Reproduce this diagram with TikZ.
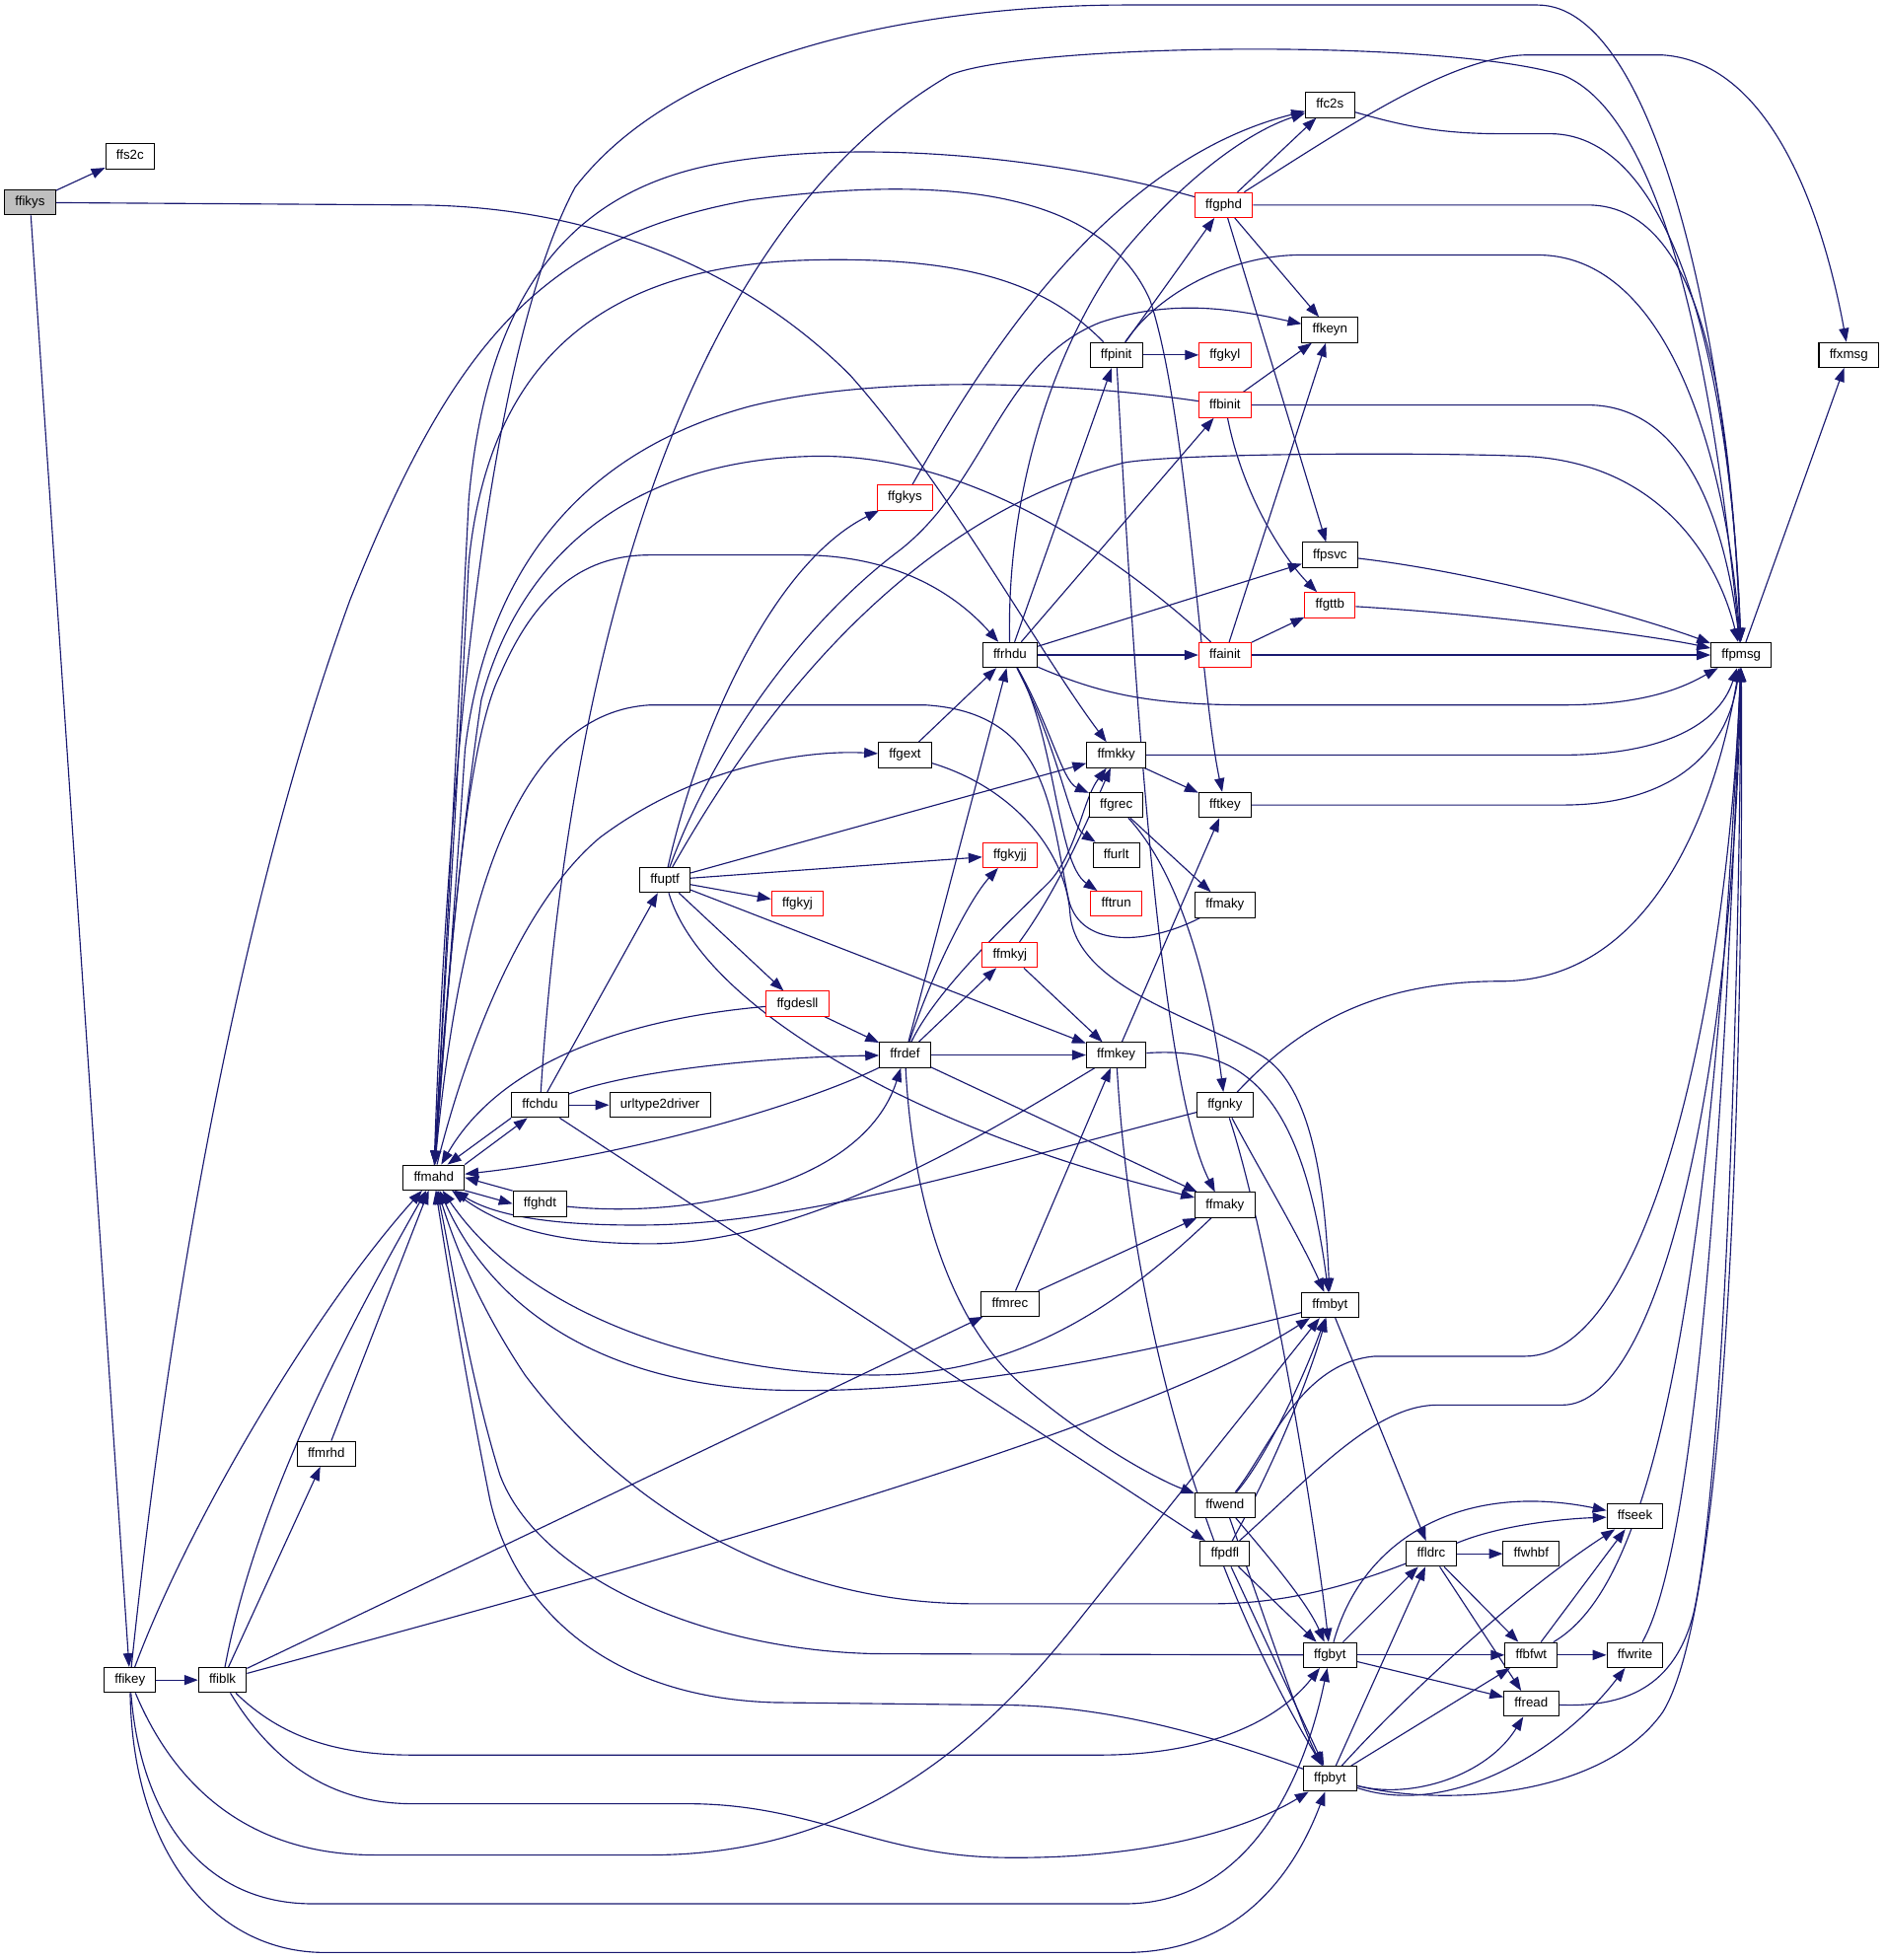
\documentclass[tikz,border=0pt]{standalone}
\usepackage{fontspec}
\setmainfont{Liberation Sans}
\usetikzlibrary{arrows.meta}
\definecolor{edgec}{HTML}{191970}
\definecolor{grayfill}{HTML}{BFBFBF}
\pgfdeclarelayer{bg}
\pgfsetlayers{bg,main}
\begin{document}
\begin{tikzpicture}[x=1pt,y=-1pt,
  nd/.style={draw=black, fill=white, rectangle, minimum height=20pt, inner xsep=8.5pt, inner ysep=0pt,
    text height=7.7pt, text depth=2.3pt, font=\fontsize{10.5}{12}\selectfont, line width=0.8pt},
  rd/.style={nd, draw=red},
  e/.style={draw=edgec, line width=0.9pt, -{Triangle[length=11pt,width=8pt]}}]
\useasboundingbox (0,0) rectangle (1508,1568);
\node[nd,fill=grayfill] (ffikys) at (24,162) {ffikys};
\node[nd] (ffs2c) at (104,125) {ffs2c};
\node[nd] (ffikey) at (104,1344) {ffikey};
\node[nd] (ffiblk) at (178,1344) {ffiblk};
\node[nd] (ffmrhd) at (261,1163) {ffmrhd};
\node[nd] (ffmahd) at (347,942) {ffmahd};
\node[nd] (ffghdt) at (432,963) {ffghdt};
\node[nd] (ffchdu) at (432,884) {ffchdu};
\node[nd] (urltd) at (528,884) {urltype2driver};
\node[nd] (ffuptf) at (532,704) {ffuptf};
\node[rd] (ffgkys) at (724,398) {ffgkys};
\node[rd] (ffgkyj) at (638,723) {ffgkyj};
\node[rd] (ffgdesll) at (638,803) {ffgdesll};
\node[nd] (ffgext) at (724,604) {ffgext};
\node[nd] (ffrdef) at (724,844) {ffrdef};
\node[nd] (ffrhdu) at (808,524) {ffrhdu};
\node[rd] (ffgkyjj) at (808,684) {ffgkyjj};
\node[rd] (ffmkyj) at (808,764) {ffmkyj};
\node[nd] (ffmrec) at (808,1043) {ffmrec};
\node[nd] (ffpinit) at (893,284) {ffpinit};
\node[nd] (ffmkky) at (893,604) {ffmkky};
\node[nd] (ffgrec) at (893,644) {ffgrec};
\node[nd] (ffurlt) at (893,684) {ffurlt};
\node[rd] (fftrun) at (893,723) {fftrun};
\node[nd] (ffmkey) at (893,844) {ffmkey};
\node[rd] (ffgphd) at (979,164) {ffgphd};
\node[rd] (ffgkyl) at (980,284) {ffgkyl};
\node[rd] (ffbinit) at (980,324) {ffbinit};
\node[rd] (ffainit) at (980,524) {ffainit};
\node[nd] (fftkey) at (980,644) {fftkey};
\node[nd] (ffmakya) at (980,724) {ffmaky};
\node[nd] (ffgnky) at (980,884) {ffgnky};
\node[nd] (ffmakyb) at (980,964) {ffmaky};
\node[nd] (ffwend) at (980,1204) {ffwend};
\node[nd] (ffpdfl) at (980,1243) {ffpdfl};
\node[nd] (ffc2s) at (1064,84) {ffc2s};
\node[nd] (ffkeyn) at (1064,264) {ffkeyn};
\node[nd] (ffpsvc) at (1064,444) {ffpsvc};
\node[rd] (ffgttb) at (1064,484) {ffgttb};
\node[nd] (ffmbyt) at (1064,1044) {ffmbyt};
\node[nd] (ffgbyt) at (1064,1324) {ffgbyt};
\node[nd] (ffpbyt) at (1064,1423) {ffpbyt};
\node[nd] (ffldrc) at (1145,1243) {ffldrc};
\node[nd] (ffwhbf) at (1225,1243) {ffwhbf};
\node[nd] (ffbfwt) at (1225,1324) {ffbfwt};
\node[nd] (ffread) at (1225,1363) {ffread};
\node[nd] (ffseek) at (1308,1213) {ffseek};
\node[nd] (ffwrite) at (1308,1324) {ffwrite};
\node[nd] (ffpmsg) at (1393,524) {ffpmsg};
\node[nd] (ffxmsg) at (1479,284) {ffxmsg};
\begin{pgfonlayer}{bg}
% ffikys
\draw[e] (ffikys) -- (ffs2c);
\draw[e] (ffikys) -- (ffikey);
\draw[e] (ffikys) -- (330,164) .. controls (480,164) and (600,220) .. (680,300) .. controls (760,390) and (830,520) .. (ffmkky);
% ffikey
\draw[e] (ffikey) -- (ffiblk);
\draw[e] (ffikey) .. controls (150,1220) and (250,1050) .. (ffmahd);
\draw[e] (ffikey) .. controls (140,1000) and (200,700) .. (280,480) .. controls (360,280) and (430,190) .. (600,160) .. controls (750,140) and (880,150) .. (920,240) .. controls (950,330) and (960,550) .. (fftkey);
\draw[e] (ffikey) .. controls (140,1430) and (200,1484) .. (300,1484) -- (520,1484) .. controls (680,1484) and (780,1400) .. (860,1300) -- (ffmbyt);
\draw[e] (ffikey) .. controls (112,1450) and (160,1523) .. (250,1523) -- (900,1523) .. controls (990,1523) and (1040,1440) .. (ffgbyt);
\draw[e] (ffikey) .. controls (106,1480) and (170,1562) .. (260,1562) -- (900,1562) .. controls (990,1562) and (1035,1500) .. (ffpbyt);
% ffiblk
\draw[e] (ffiblk) .. controls (205,1200) and (280,1060) .. (ffmahd);
\draw[e] (ffiblk) -- (ffmrhd);
\draw[e] (ffmrhd) -- (ffmahd);
\draw[e] (ffiblk) -- (ffmrec);
\draw[e] (ffiblk) .. controls (450,1270) and (900,1150) .. (ffmbyt);
\draw[e] (ffiblk) .. controls (225,1390) and (270,1404) .. (330,1404) -- (880,1404) .. controls (960,1404) and (1020,1380) .. (ffgbyt);
\draw[e] (ffiblk) .. controls (215,1405) and (260,1443) .. (330,1443) -- (550,1443) .. controls (650,1443) and (700,1484) .. (800,1486) .. controls (920,1488) and (1000,1462) .. (ffpbyt);
% ffmahd / ffchdu / ffghdt
\draw[e] (ffchdu.south west) -- ([xshift=11pt]ffmahd.north);
\draw[e] (ffmahd.north east) -- ([xshift=-10pt]ffchdu.south);
\draw[e] (ffmahd.south east) -- (ffghdt.west);
\draw[e] (ffghdt.north west) -- (ffmahd.east);
\draw[e] (ffghdt) .. controls (550,975) and (690,950) .. (ffrdef);
\draw[e] (ffchdu) -- (urltd);
\draw[e] (ffchdu) -- (ffuptf);
\draw[e] (ffchdu) .. controls (500,858) and (600,846) .. (ffrdef);
\draw[e] (ffchdu) -- (ffpdfl);
\draw[e] (ffchdu) .. controls (450,600) and (520,200) .. (760,60) .. controls (820,35) and (1150,30) .. (1250,60) .. controls (1350,100) and (1380,400) .. (ffpmsg);
% ffmahd outgoing
\draw[e] (ffmahd) .. controls (355,700) and (380,300) .. (460,150) .. controls (560,20) and (800,4) .. (900,4) -- (1230,4) .. controls (1330,4) and (1385,300) .. (ffpmsg);
\draw[e] (ffmahd) .. controls (358,800) and (370,600) .. (400,540) .. controls (430,470) and (470,444) .. (520,444) -- (640,444) .. controls (710,444) and (760,470) .. (ffrhdu);
\draw[e] (ffmahd) .. controls (375,830) and (420,720) .. (480,670) .. controls (560,610) and (650,600) .. (ffgext);
% into ffmahd
\draw[e] (ffgphd) .. controls (850,128) and (700,110) .. (580,130) .. controls (460,150) and (390,230) .. (375,400) .. controls (365,600) and (355,800) .. (ffmahd);
\draw[e] (ffpinit) .. controls (840,230) and (780,205) .. (650,208) .. controls (470,212) and (390,300) .. (375,450) .. controls (365,650) and (355,800) .. (ffmahd);
\draw[e] (ffbinit) .. controls (850,305) and (700,300) .. (600,325) .. controls (470,360) and (390,450) .. (372,600) .. controls (362,750) and (354,850) .. (ffmahd);
\draw[e] (ffainit) .. controls (900,450) and (780,362) .. (650,365) .. controls (520,368) and (420,430) .. (385,560) .. controls (365,700) and (355,820) .. (ffmahd);
\draw[e] (ffmakya) .. controls (920,755) and (865,760) .. (855,720) .. controls (840,650) and (840,570) .. (740,564) -- (520,564) .. controls (420,570) and (370,700) .. (ffmahd);
\draw[e] (ffgdesll) .. controls (500,815) and (400,850) .. (ffmahd);
\draw[e] (ffrdef) .. controls (640,885) and (500,925) .. (ffmahd);
\draw[e] (ffmkey) .. controls (800,900) and (650,995) .. (520,995) .. controls (440,995) and (400,980) .. (ffmahd);
\draw[e] (ffgnky) .. controls (800,930) and (650,978) .. (520,980) .. controls (440,981) and (395,972) .. (ffmahd);
\draw[e] (ffmakyb) .. controls (900,1040) and (820,1100) .. (700,1100) .. controls (560,1100) and (420,1050) .. (ffmahd);
\draw[e] (ffmbyt) .. controls (850,1100) and (720,1115) .. (620,1112) .. controls (500,1108) and (400,1060) .. (ffmahd);
\draw[e] (ffldrc) .. controls (1080,1268) and (1030,1283) .. (970,1283) -- (780,1283) .. controls (600,1283) and (480,1180) .. (420,1100) .. controls (380,1040) and (362,990) .. (ffmahd);
\draw[e] (ffgbyt) -- (700,1323) .. controls (560,1320) and (430,1260) .. (400,1180) .. controls (375,1100) and (360,1000) .. (ffmahd);
\draw[e] (ffpbyt) .. controls (960,1385) and (880,1364) .. (800,1364) -- (620,1362) .. controls (480,1358) and (410,1280) .. (392,1200) .. controls (372,1100) and (356,1000) .. (ffmahd);
% ffuptf
\draw[e] (ffuptf) .. controls (560,580) and (620,450) .. (ffgkys);
\draw[e] (ffuptf) .. controls (580,620) and (700,420) .. (900,370) .. controls (950,362) and (1150,362) .. (1220,365) .. controls (1330,370) and (1375,450) .. (ffpmsg);
\draw[e] (ffuptf) .. controls (570,600) and (640,500) .. (720,440) .. controls (790,385) and (800,290) .. (880,258) .. controls (940,238) and (990,248) .. (ffkeyn);
\draw[e] (ffuptf) -- (ffmkky);
\draw[e] (ffuptf) -- (ffgkyjj);
\draw[e] (ffuptf) -- (ffgkyj);
\draw[e] (ffuptf) -- (ffgdesll);
\draw[e] (ffuptf) -- (ffmkey);
\draw[e] (ffuptf) .. controls (560,800) and (720,900) .. (ffmakyb);
% ffgdesll, ffrdef
\draw[e] (ffgdesll) -- (ffrdef);
\draw[e] (ffrdef) -- (ffrhdu);
\draw[e] (ffrdef) .. controls (745,780) and (775,720) .. (ffgkyjj);
\draw[e] (ffrdef) -- (ffmkyj);
\draw[e] (ffrdef) .. controls (750,790) and (810,735) .. (840,705) .. controls (862,680) and (866,640) .. (ffmkky);
\draw[e] (ffrdef) -- (ffmkey);
\draw[e] (ffrdef) -- (ffmakyb);
\draw[e] (ffrdef) .. controls (730,960) and (760,1060) .. (820,1110) .. controls (880,1160) and (930,1185) .. (ffwend);
% ffmkyj
\draw[e] (ffmkyj) .. controls (840,720) and (860,680) .. (ffmkky);
\draw[e] (ffmkyj) -- (ffmkey);
% ffrhdu
\draw[e] (ffrhdu) .. controls (840,580) and (850,625) .. (ffgrec);
\draw[e] (ffrhdu) .. controls (848,600) and (855,660) .. (ffurlt);
\draw[e] (ffrhdu) .. controls (845,590) and (845,690) .. (fftrun);
\draw[e] (ffrhdu) -- (ffainit);
\draw[e] (ffrhdu) -- (ffpsvc);
\draw[e] (ffrhdu) .. controls (880,555) and (920,564) .. (1000,564) -- (1250,564) .. controls (1320,564) and (1350,548) .. (ffpmsg);
\draw[e] (ffrhdu) -- (ffpinit);
\draw[e] (ffrhdu) -- (ffbinit);
\draw[e] (ffrhdu) .. controls (805,400) and (840,280) .. (900,200) .. controls (950,140) and (1000,105) .. (ffc2s);
% ffgkys, ffgphd
\draw[e] (ffgkys) .. controls (780,300) and (880,130) .. (ffc2s);
\draw[e] (ffgphd) -- (ffc2s);
\draw[e] (ffgphd) .. controls (1080,100) and (1160,46) .. (1220,44) -- (1330,44) .. controls (1420,50) and (1460,180) .. (ffxmsg);
\draw[e] (ffgphd) -- (1270,164) .. controls (1370,164) and (1385,350) .. (ffpmsg);
\draw[e] (ffgphd) -- (ffkeyn);
\draw[e] (ffgphd) -- (ffpsvc);
% ffpinit
\draw[e] (ffpinit) -- (ffgphd);
\draw[e] (ffpinit) -- (ffgkyl);
\draw[e] (ffpinit) .. controls (930,230) and (990,204) .. (1040,204) -- (1230,204) .. controls (1340,204) and (1382,380) .. (ffpmsg);
\draw[e] (ffpinit) .. controls (905,500) and (925,860) .. ([xshift=-8pt]ffmakyb.north);
% ffbinit, ffainit
\draw[e] (ffbinit) -- (ffkeyn);
\draw[e] (ffbinit) -- (1270,324) .. controls (1350,324) and (1380,420) .. (ffpmsg);
\draw[e] (ffbinit) .. controls (995,400) and (1030,450) .. (ffgttb);
\draw[e] (ffainit) -- (ffgttb);
\draw[e] (ffainit) -- (ffkeyn);
\draw[e] (ffainit) -- (ffpmsg);
% to ffpmsg
\draw[e] (ffpsvc) .. controls (1200,460) and (1330,500) .. (ffpmsg);
\draw[e] (ffgttb) .. controls (1200,492) and (1330,510) .. (ffpmsg);
\draw[e] (ffc2s) .. controls (1120,100) and (1150,107) .. (1200,107) -- (1240,107) .. controls (1340,107) and (1385,300) .. (ffpmsg);
\draw[e] (ffpmsg) -- (ffxmsg);
\draw[e] (ffmkky) -- (1250,604) .. controls (1330,604) and (1375,580) .. (ffpmsg);
\draw[e] (ffmkky) -- (fftkey);
\draw[e] (fftkey) -- (1250,644) .. controls (1340,644) and (1382,600) .. (ffpmsg);
\draw[e] (ffgrec) -- (ffmakya);
\draw[e] (ffgrec) .. controls (945,700) and (968,790) .. (ffgnky);
% ffmkey, ffmrec
\draw[e] (ffmkey) -- (fftkey);
\draw[e] (ffmkey) .. controls (985,838) and (1040,860) .. (ffmbyt);
\draw[e] (ffmkey) .. controls (905,1050) and (960,1250) .. (ffpbyt);
\draw[e] (ffmrec) -- (ffmkey);
\draw[e] (ffmrec) -- (ffmakyb);
% ffgnky
\draw[e] (ffgnky) .. controls (1040,820) and (1100,785) .. (1200,785) .. controls (1320,785) and (1372,650) .. (ffpmsg);
\draw[e] (ffgnky) .. controls (1010,940) and (1040,990) .. (ffmbyt);
\draw[e] (ffgnky) .. controls (1012,980) and (1050,1200) .. (ffgbyt);
% ffgext
\draw[e] (ffgext) -- (ffrhdu);
\draw[e] (ffgext) .. controls (810,630) and (852,680) .. (856,730) .. controls (860,790) and (960,815) .. (1010,845) .. controls (1050,870) and (1060,950) .. (ffmbyt);
% ffwend, ffpdfl
\draw[e] (ffwend) .. controls (1010,1170) and (1040,1110) .. (ffmbyt);
\draw[e] (ffwend) .. controls (1015,1160) and (1040,1090) .. (1100,1085) -- (1220,1085) .. controls (1320,1085) and (1382,800) .. (ffpmsg);
\draw[e] (ffwend) .. controls (1010,1240) and (1045,1280) .. (ffgbyt);
\draw[e] (ffwend) .. controls (1000,1260) and (1040,1380) .. (ffpbyt);
\draw[e] (ffpdfl) .. controls (1015,1180) and (1045,1110) .. (ffmbyt);
\draw[e] (ffpdfl) .. controls (1050,1180) and (1100,1124) .. (1150,1124) -- (1250,1124) .. controls (1330,1124) and (1387,850) .. (ffpmsg);
\draw[e] (ffpdfl) -- (ffgbyt);
\draw[e] (ffpdfl) -- (ffpbyt);
% ffmbyt, ffgbyt, ffpbyt
\draw[e] (ffmbyt) -- (ffldrc);
\draw[e] (ffgbyt) -- (ffldrc);
\draw[e] (ffgbyt) .. controls (1090,1230) and (1170,1185) .. (ffseek);
\draw[e] (ffgbyt) -- (ffbfwt);
\draw[e] (ffgbyt) -- (ffread);
\draw[e] (ffpbyt) -- (ffldrc);
\draw[e] (ffpbyt) .. controls (1130,1350) and (1220,1270) .. (ffseek);
\draw[e] (ffpbyt) -- (ffbfwt);
\draw[e] (ffpbyt) .. controls (1130,1440) and (1190,1420) .. (ffread);
\draw[e] (ffpbyt) .. controls (1160,1455) and (1250,1400) .. (ffwrite);
\draw[e] (ffpbyt) .. controls (1150,1445) and (1280,1440) .. (1330,1370) .. controls (1380,1290) and (1395,900) .. (ffpmsg);
% ffldrc, ffbfwt, ffwrite, ffread
\draw[e] (ffldrc) .. controls (1200,1220) and (1250,1215) .. (ffseek);
\draw[e] (ffldrc) -- (ffwhbf);
\draw[e] (ffldrc) -- (ffbfwt);
\draw[e] (ffldrc) -- ([xshift=-8pt]ffread.north);
\draw[e] (ffbfwt) -- (ffseek);
\draw[e] (ffbfwt) -- (ffwrite);
\draw[e] (ffbfwt) .. controls (1300,1280) and (1365,1150) .. (ffpmsg);
\draw[e] (ffwrite) .. controls (1350,1250) and (1376,1000) .. (ffpmsg);
\draw[e] (ffread) .. controls (1300,1366) and (1340,1350) .. (1355,1290) .. controls (1375,1200) and (1390,900) .. (ffpmsg);
\end{pgfonlayer}
\end{tikzpicture}
\end{document}
